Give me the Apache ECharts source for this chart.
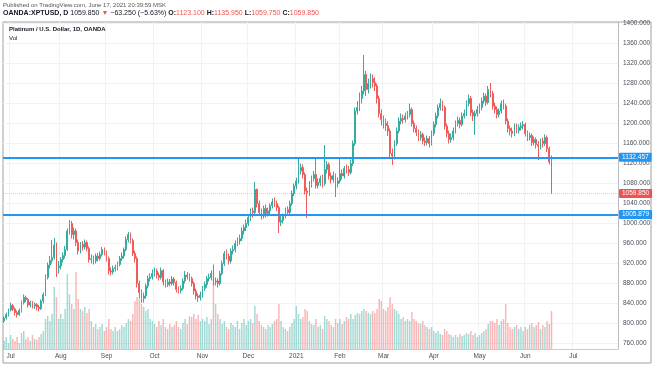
<!DOCTYPE html>
<html><head><meta charset="utf-8">
<script src="https://cdn.jsdelivr.net/npm/echarts@6/dist/echarts.min.js"></script>
<style>html,body{margin:0;padding:0;background:#fff}#c{width:654px;height:366px}</style>
</head><body><div id="c"></div>
<script>
// ---- data ----
const startDate = '2020-06-26';
const skipDates = ['2020-12-25', '2021-01-01', '2021-04-02'];
const totalSlots = 282;
const monthNames = ['Jan','Feb','Mar','Apr','May','Jun','Jul','Aug','Sep','Oct','Nov','Dec'];
const priceTicks = [760,800,840,880,920,960,1000,1040,1080,1120,1160,1200,1240,1280,1320,1360,1400];
const levelLines = [1132.457, 1018.0];
const levelLabels = ['1132.457', '1005.879'];
const lastPrice = 1059.85;

const opens = [
805,811,818,
827,836,829,822,818,826,842,852,848,837,842,835,838,833,830,845,858,892,917,926,932,957,912,
915,928,936,948,985,1000,978,985,962,945,958,953,962,950,928,930,925,935,930,938,948,
942,930,905,903,910,912,918,930,935,948,968,978,966,940,930,880,862,850,855,875,890,893,
900,905,897,892,906,883,878,883,880,889,882,868,866,870,885,897,894,890,880,865,855,852,
857,870,878,890,892,900,883,885,880,900,920,940,935,925,945,948,960,965,970,985,992,
1000,1012,1025,1022,1068,1040,1022,1015,1030,1020,1025,1036,1043,1040,1032,1003,1006,1015,1028,1022,1040,1060,
1075,1085,1105,1112,1098,1065,1062,1078,1090,1098,1076,1082,1090,1080,1108,1118,1095,1088,1096,1080,
1085,1100,1095,1110,1108,1102,1120,1160,1225,1232,1250,1265,1298,1268,1280,1290,1282,1275,1250,1220,
1208,1200,1196,1185,1140,1135,1160,1185,1205,1210,1208,1215,1218,1228,1200,1190,1182,1172,1178,1165,1162,1170,1160,
1180,1198,1215,1232,1240,1232,1195,1180,1168,1172,1185,1200,1206,1198,1215,1220,1240,1250,1222,1215,1220,
1228,1232,1245,1255,1242,1268,1260,1235,1228,1218,1225,1240,1235,1205,1190,1185,1180,1195,1186,1192,1195,
1198,1180,1172,1176,1162,1168,1158,1155,1165,1160,1172,1150,1123.1
];
const closes = [
811,818,827,
836,829,822,818,826,842,852,848,837,842,835,838,833,830,845,858,892,917,926,932,957,912,915,
928,936,948,985,1000,978,985,962,945,958,953,962,950,928,930,925,935,930,938,948,942,
930,905,903,910,912,918,930,935,948,968,978,966,940,930,880,862,850,855,875,890,893,900,
905,897,892,906,883,878,883,880,889,882,868,866,870,885,897,894,890,880,865,855,852,857,
870,878,890,892,900,883,885,880,900,920,940,935,925,945,948,960,965,970,985,992,1000,
1012,1025,1022,1068,1040,1022,1015,1030,1020,1025,1036,1043,1040,1032,1003,1006,1015,1028,1022,1040,1060,1075,
1085,1105,1112,1098,1065,1062,1078,1090,1098,1076,1082,1090,1080,1108,1118,1095,1088,1096,1080,1085,
1100,1095,1110,1108,1102,1120,1160,1225,1232,1250,1265,1298,1268,1280,1290,1282,1275,1250,1220,1208,
1200,1196,1185,1140,1135,1160,1185,1205,1210,1208,1215,1218,1228,1200,1190,1182,1172,1178,1165,1162,1170,1160,1180,
1198,1215,1232,1240,1232,1195,1180,1168,1172,1185,1200,1206,1198,1215,1220,1240,1250,1222,1215,1220,1228,
1232,1245,1255,1242,1268,1260,1235,1228,1218,1225,1240,1235,1205,1190,1185,1180,1195,1186,1192,1195,1198,
1180,1172,1176,1162,1168,1158,1155,1165,1160,1172,1150,1123.1,1059.85
];
const highs = [
815,822,830,
842,839,832,826,830,846,858,856,851,846,845,842,841,837,848,862,898,922,935,967,971,962,925,
933,942,955,990,1007,1005,992,990,968,963,965,968,966,954,938,936,940,941,944,953,952,
946,934,912,916,918,924,935,942,952,974,983,982,970,946,934,886,868,862,880,896,900,908,
912,910,902,912,909,888,890,889,895,893,886,874,876,890,905,903,900,894,884,870,860,864,
875,884,895,900,906,918,892,890,905,926,945,948,940,950,956,966,972,978,992,998,1008,
1018,1030,1032,1083,1070,1046,1030,1036,1038,1032,1040,1050,1052,1046,1036,1015,1020,1032,1034,1046,1066,1080,
1092,1131,1120,1118,1102,1072,1085,1096,1105,1133,1090,1096,1098,1157,1125,1122,1102,1104,1100,1092,
1133,1108,1115,1118,1115,1128,1166,1232,1245,1262,1275,1337,1305,1290,1300,1298,1292,1280,1256,1228,
1216,1210,1205,1190,1150,1166,1192,1212,1220,1218,1222,1225,1240,1232,1206,1196,1188,1185,1182,1172,1176,1175,1186,
1204,1222,1238,1250,1246,1236,1200,1186,1180,1192,1206,1214,1212,1222,1228,1246,1258,1255,1228,1226,1235,
1240,1252,1262,1260,1275,1281,1265,1242,1234,1230,1246,1248,1240,1210,1196,1192,1200,1200,1198,1202,1205,
1202,1186,1182,1180,1174,1172,1165,1170,1172,1178,1176,1154,1135.95
];
const lows = [
801,808,814,
824,825,816,812,815,822,838,843,832,832,830,829,826,824,827,840,855,888,910,920,928,893,900,
908,922,930,945,978,970,968,955,938,940,946,948,944,922,920,918,920,924,926,934,936,
924,898,896,898,904,906,914,925,930,944,962,960,935,922,872,850,841,842,850,870,884,888,
894,890,886,888,876,872,873,874,876,876,862,860,860,866,880,888,884,874,858,848,843,846,
852,865,872,884,886,876,876,872,876,896,915,928,918,920,938,942,955,958,965,978,985,
995,1005,1012,1018,1032,1015,1008,1010,1012,1014,1018,1030,1033,1025,981,995,1000,1010,1015,1018,1036,1055,
1068,1080,1098,1090,1058,1011,1055,1072,1084,1070,1070,1075,1072,1076,1100,1088,1080,1082,1053,1072,
1080,1088,1090,1100,1095,1098,1115,1155,1218,1225,1240,1258,1255,1260,1270,1272,1265,1240,1212,1196,
1190,1185,1175,1130,1117,1128,1155,1180,1198,1200,1202,1208,1212,1194,1182,1175,1165,1166,1158,1155,1156,1152,1156,
1175,1192,1210,1226,1225,1188,1172,1160,1162,1166,1180,1194,1190,1194,1210,1215,1234,1215,1205,1177,1214,
1220,1226,1240,1235,1238,1252,1228,1220,1210,1212,1220,1228,1198,1182,1176,1172,1175,1180,1180,1186,1188,
1174,1165,1166,1155,1156,1150,1127,1148,1152,1155,1143,1118,1059.75
];
const volumes = [
8,12,6,
14,10,8,12,6,16,18,10,12,8,14,10,9,12,15,18,30,33,28,35,62,52,30,
35,30,40,75,55,45,40,77,50,40,38,42,36,40,28,22,25,20,22,25,18,
22,30,20,18,22,18,20,24,22,26,30,28,35,48,52,50,45,42,38,40,30,28,
25,22,28,24,30,22,20,25,22,24,28,22,20,26,30,25,33,32,35,30,34,28,
30,28,32,25,30,77,45,35,30,25,28,22,20,26,24,22,28,20,26,30,24,
28,30,26,43,35,28,24,22,20,24,22,25,28,30,45,28,22,20,18,22,26,30,
43,35,30,32,40,38,28,25,24,30,22,24,20,33,30,28,24,22,30,26,
30,25,28,32,30,35,30,34,36,35,38,40,38,36,35,38,36,40,50,48,
40,38,42,52,45,40,38,35,30,32,28,30,28,37,30,28,26,25,28,24,22,20,22,
18,16,18,15,14,20,18,15,14,12,14,12,15,13,14,16,15,18,14,16,12,
14,16,18,20,25,28,28,26,30,24,28,30,45,26,22,20,22,24,20,22,18,
22,20,24,26,22,24,27,20,24,22,28,25,38
];

// ---- build categories (trading days) ----
const dates = [];
(function () {
  const d = new Date(startDate + 'T00:00:00Z');
  while (dates.length < totalSlots) {
    const wd = d.getUTCDay();
    const s = d.toISOString().slice(0, 10);
    if (wd !== 0 && wd !== 6 && skipDates.indexOf(s) < 0) dates.push(s);
    d.setUTCDate(d.getUTCDate() + 1);
  }
})();
const isMonthStart = (i) => i > 0 && dates[i].slice(5, 7) !== dates[i - 1].slice(5, 7);

const UP = '#35ac9f', DOWN = '#ef5c59';
const candleData = opens.map((o, i) => [o, closes[i], lows[i], highs[i]]);
const volData = volumes.map((v, i) => ({
  value: v,
  itemStyle: { color: closes[i] >= opens[i] ? 'rgba(38,166,154,0.42)' : 'rgba(239,83,80,0.42)' }
}));

const FONT = 'Liberation Sans, Arial, sans-serif';
const chart = echarts.init(document.getElementById('c'), null, { renderer: 'canvas' });

const lblBase = {
  show: true, position: 'end', distance: 1, color: '#fff', fontSize: 6.5,
  fontFamily: FONT, padding: [1, 3, 1, 3], borderRadius: 1
};

chart.setOption({
  animation: false,
  backgroundColor: '#fff',
  grid: { left: 3, right: 36, top: 22, bottom: 17, containLabel: false },
  xAxis: {
    type: 'category', data: dates, boundaryGap: true,
    axisLine: { show: true, lineStyle: { color: '#c9cbd1', width: 1 } },
    axisTick: { show: false },
    axisLabel: {
      interval: (i) => isMonthStart(i), margin: 4, fontSize: 6.5, color: '#4a4d57', fontFamily: FONT,
      formatter: (v) => { const m = +v.slice(5, 7) - 1; return m === 0 ? v.slice(0, 4) : monthNames[m]; }
    },
    splitLine: { show: true, interval: (i) => isMonthStart(i), lineStyle: { color: '#f1f2f6', width: 1 } }
  },
  yAxis: [{
    type: 'value', position: 'right', min: 749, max: 1403, scale: true,
    axisLine: { show: true, lineStyle: { color: '#b9bcc4', width: 1 } },
    axisTick: { show: false, customValues: priceTicks },
    axisLabel: {
      customValues: priceTicks, margin: 5, fontSize: 6.5, color: '#4a4d57', fontFamily: FONT,
      formatter: (v) => Number(v).toFixed(3)
    },
    splitLine: { show: true, lineStyle: { color: '#f1f2f6', width: 1 } }
  }, {
    type: 'value', min: 0, max: 327, show: false,
    splitLine: { show: false }
  }],
  series: [{
    type: 'bar', xAxisIndex: 0, yAxisIndex: 1, data: volData,
    barWidth: '68%', z: 1, silent: true
  }, {
    type: 'candlestick', xAxisIndex: 0, yAxisIndex: 0, data: candleData,
    barWidth: '60%', z: 5,
    itemStyle: { color: UP, color0: DOWN, borderColor: UP, borderColor0: DOWN, borderWidth: 1 },
    markLine: {
      silent: true, symbol: ['none', 'none'], animation: false, z: 10,
      data: [
        { yAxis: levelLines[0], lineStyle: { color: '#2196f3', width: 2, type: 'solid' },
          label: Object.assign({}, lblBase, { backgroundColor: '#2196f3', formatter: levelLabels[0] }) },
        { yAxis: levelLines[1], lineStyle: { color: '#2196f3', width: 2, type: 'solid' },
          label: Object.assign({}, lblBase, { backgroundColor: '#2196f3', formatter: levelLabels[1] }) },
        { yAxis: lastPrice, lineStyle: { color: 'rgba(239,83,80,0.35)', width: 1, type: 'dotted' },
          label: Object.assign({}, lblBase, { backgroundColor: '#ef5350', formatter: lastPrice.toFixed(3) }) }
      ]
    }
  }],
  graphic: [
    { type: 'rect', silent: true, z: 0, shape: { x: 3, y: 22, width: 648, height: 341 },
      style: { fill: 'none', stroke: '#a0a0a0', lineWidth: 1 } },
    { type: 'text', left: 3, top: 2, silent: true,
      style: { text: 'Published on TradingView.com, June 17, 2021 20:39:59 MSK', fontSize: 6, fill: '#555', fontFamily: FONT } },
    { type: 'text', left: 3, top: 10, silent: true,
      style: {
        text: '{a|OANDA:XPTUSD, D} {b|1059.850} {r|▼} {b|−63.250 (−5.63%)} {a|O:}{r|1123.100} {a|H:}{r|1135.950} {a|L:}{r|1059.750} {a|C:}{r|1059.850}',
        fontSize: 7, fontFamily: FONT,
        rich: {
          a: { fontSize: 7, fontWeight: 'bold', fill: '#131722', fontFamily: FONT },
          b: { fontSize: 7, fill: '#131722', fontFamily: FONT },
          r: { fontSize: 7, fill: '#ef5350', fontFamily: FONT }
        }
      } },
    { type: 'text', left: 9, top: 26, silent: true, z: 20,
      style: { text: 'Platinum / U.S. Dollar, 1D, OANDA', fontSize: 6, fontWeight: 'bold', fill: '#131722', fontFamily: FONT } },
    { type: 'text', left: 9, top: 35, silent: true, z: 20,
      style: { text: 'Vol', fontSize: 6, fill: '#131722', fontFamily: FONT } }
  ]
});
</script>
</body></html>
